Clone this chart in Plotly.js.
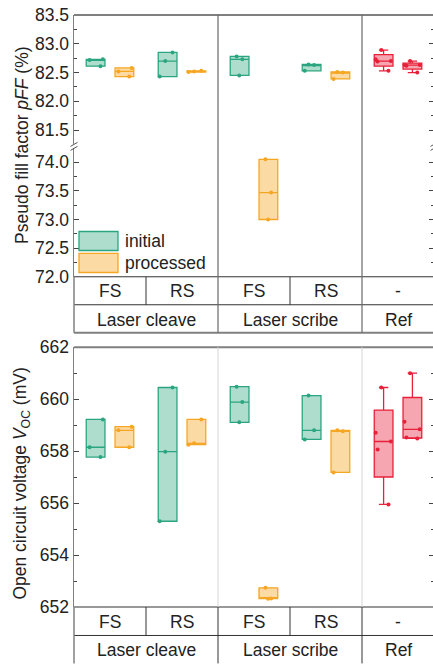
<!DOCTYPE html>
<html><head><meta charset="utf-8">
<script src="https://cdn.plot.ly/plotly-3.0.1.min.js"></script>
<style>html,body{margin:0;padding:0;overflow:hidden;background:#fff}</style>
</head><body><div id="chart" style="width:440px;height:664px"></div>
<script>
// ---- data ----
const categories = ['LC-FS', 'LC-RS', 'LS-FS', 'LS-RS'];
const refCategory = 'Ref';
const allCategories = ['LC-FS', 'LC-RS', 'LS-FS', 'LS-RS', 'Ref'];
const sideLabels = ['FS', 'RS', 'FS', 'RS', '-'];
const groupLabels = ['Laser cleave', 'Laser scribe', 'Ref'];

// Pseudo fill factor pFF (%)
const pffInitial = [[82.72, 82.73, 82.61], [82.85, 82.70, 82.43], [82.73, 82.78, 82.45], [82.64, 82.63, 82.53]];
const pffProcessed = [[82.58, 82.52, 82.43], [82.53, 82.52, 82.51], [74.05, 73.47, 73.00], [82.50, 82.51, 82.39]];
const pffRefA = [82.53, 82.69, 82.70, 82.73, 82.89];
const pffRefB = [82.50, 82.62, 82.63, 82.63, 82.70];

// Open circuit voltage Voc (mV)
const vocInitial = [[659.22, 658.15, 657.77], [660.45, 657.98, 655.30], [660.48, 659.89, 659.11], [660.14, 658.80, 658.45]];
const vocProcessed = [[658.94, 658.80, 658.15], [659.22, 658.30, 658.25], [652.74, 652.33, 652.32], [658.80, 658.77, 657.18]];
const vocRefA = [655.95, 658.06, 658.37, 658.71, 660.45];
const vocRefB = [658.49, 658.52, 658.84, 659.13, 661.00];

// ---- styling ----
const W = 440, H = 664, L = 74, R = 6, T = 15, B = 56.5;
const plotH = H - T - B, plotW = W - L - R;
const py = px => (H - B - px) / plotH;
const pxX = px => (px - L) / plotW;
const FONT = 'Arial, "Liberation Sans", sans-serif';
const FS = 17.5;

const GREEN = '#2BA57F', GREEN_F = 'rgba(43,165,127,0.38)';
const ORANGE = '#F5A623', ORANGE_F = 'rgba(245,166,35,0.42)';
const RED = '#E8203A', RED_F = 'rgba(232,32,58,0.40)';

function boxTrace(name, cats, values, color, fill, og, ya) {
  const x = [], y = [];
  values.forEach((arr, i) => arr.forEach(v => { x.push(cats[i]); y.push(v); }));
  return {
    type: 'box', name: name, x: x, y: y, xaxis: 'x', yaxis: ya, offsetgroup: og,
    showlegend: false, line: { color: color, width: 1.3 }, fillcolor: fill,
    boxpoints: 'all', jitter: 1, pointpos: 0, marker: { color: color, size: 4 },
    quartilemethod: 'exclusive', whiskerwidth: 0.5, hoverinfo: 'skip'
  };
}

const traces = [];
['y', 'y2'].forEach(ya => {
  traces.push(boxTrace('initial', categories, pffInitial, GREEN, GREEN_F, 'a', ya));
  traces.push(boxTrace('processed', categories, pffProcessed, ORANGE, ORANGE_F, 'b', ya));
  traces.push(boxTrace('Ref A', [refCategory], [pffRefA], RED, RED_F, 'a', ya));
  traces.push(boxTrace('Ref B', [refCategory], [pffRefB], RED, RED_F, 'b', ya));
});
traces.push(boxTrace('initial', categories, vocInitial, GREEN, GREEN_F, 'a', 'y3'));
traces.push(boxTrace('processed', categories, vocProcessed, ORANGE, ORANGE_F, 'b', 'y3'));
traces.push(boxTrace('Ref A', [refCategory], [vocRefA], RED, RED_F, 'a', 'y3'));
traces.push(boxTrace('Ref B', [refCategory], [vocRefB], RED, RED_F, 'b', 'y3'));

const yCommon = {
  ticks: 'inside', ticklen: 5, tickwidth: 1, tickcolor: '#444',
  showline: true, linecolor: '#808080', linewidth: 1.5, mirror: 'ticks',
  showgrid: false, zeroline: false, anchor: 'x',
  tickfont: { family: FONT, size: FS, color: '#222' }
};

const shapes = [];
function line(x0, y0, x1, y1, color, width, xref) {
  shapes.push({ type: 'line', xref: xref || 'paper', yref: 'paper', x0: x0, x1: x1, y0: y0, y1: y1,
    line: { color: color, width: width } });
}
// top panel frame & table
line(0, 1, 1, 1, '#808080', 2);
line(0, py(277), 1, py(277), '#333', 1);
line(0, py(305), 1, py(305), '#333', 1);
line(0, py(333), 1, py(333), '#808080', 2);
line(0, py(277), 0, py(333), '#808080', 1.5);
[1.5, 3.5].forEach(x => line(x, py(15), x, py(333), '#6a6a6a', 1.2, 'x'));
[0.5, 2.5].forEach(x => line(x, py(277), x, py(305), '#333', 1, 'x'));
// break marks
[[70.5, 77.5], [430.5, 437.5]].forEach(([a, b]) => {
  line(pxX(a), py(146.5), pxX(b), py(142.5), '#555', 1);
  line(pxX(a), py(150.5), pxX(b), py(146.5), '#555', 1);
});
// bottom panel frame & table
line(0, py(347.5), 1, py(347.5), '#808080', 2);
line(0, py(607.5), 1, py(607.5), '#333', 1);
line(0, py(636), 1, py(636), '#333', 1);
line(0, py(607.5), 0, py(664), '#808080', 1.5);
[1.5, 3.5].forEach(x => {
  line(x, py(347.5), x, py(607.5), '#d4d4d4', 1, 'x');
  line(x, py(607.5), x, py(664), '#333', 1, 'x');
});
[0.5, 2.5].forEach(x => line(x, py(607.5), x, py(636), '#333', 1, 'x'));
// legend swatches
shapes.push({ type: 'rect', xref: 'paper', yref: 'paper', x0: pxX(79), x1: pxX(118), y0: py(250.7), y1: py(231.7),
  fillcolor: GREEN_F, line: { color: GREEN, width: 1.3 } });
shapes.push({ type: 'rect', xref: 'paper', yref: 'paper', x0: pxX(79), x1: pxX(118), y0: py(272.7), y1: py(253.5),
  fillcolor: ORANGE_F, line: { color: ORANGE, width: 1.3 } });

const annotations = [];
function ann(text, x, y, xref, extra) {
  annotations.push(Object.assign({ text: text, x: x, y: y, xref: xref || 'paper', yref: 'paper', showarrow: false,
    xanchor: 'center', yanchor: 'middle', font: { family: FONT, size: FS, color: '#222' } }, extra || {}));
}
// table texts
const groupCenters = [0.5, 2.5, 4];
sideLabels.forEach((s, i) => { ann(s, i, py(291.5), 'x'); ann(s, i, py(622.5), 'x'); });
groupLabels.forEach((g, i) => { ann(g, groupCenters[i], py(320), 'x'); ann(g, groupCenters[i], py(650.5), 'x'); });
// legend text
ann('initial', pxX(123), py(241), 'paper', { xanchor: 'left' });
ann('processed', pxX(123), py(263), 'paper', { xanchor: 'left' });
// axis titles
ann('Pseudo fill factor <i>pFF</i> (%)', pxX(22), py(146), 'paper', { textangle: -90 });
ann('Open circuit voltage <i>V</i><sub>OC</sub> (mV)', pxX(22), py(484), 'paper', { textangle: -90 });

const layout = {
  width: W, height: H, margin: { l: L, r: R, t: T, b: B },
  paper_bgcolor: '#fff', plot_bgcolor: 'rgba(0,0,0,0)',
  boxmode: 'group', boxgap: 0.2, boxgroupgap: 0.35,
  showlegend: false,
  xaxis: { domain: [0, 1], anchor: 'y2', type: 'category', categoryarray: allCategories, categoryorder: 'array',
    range: [-0.5, 4.5], showticklabels: false, ticks: '', showline: false, showgrid: false, zeroline: false },
  yaxis: Object.assign({}, yCommon, { domain: [py(144.6), 1], range: [81.25, 83.5], dtick: 0.5, tick0: 0,
    tickformat: '.1f', minor: { dtick: 0.25, ticks: 'inside', ticklen: 3, tickcolor: '#444' } }),
  yaxis2: Object.assign({}, yCommon, { domain: [py(277), py(148)], range: [72, 74.25], dtick: 0.5, tick0: 0,
    tickformat: '.1f', minor: { dtick: 0.25, ticks: 'inside', ticklen: 3, tickcolor: '#444' } }),
  yaxis3: Object.assign({}, yCommon, { domain: [0, py(347.5)], range: [652, 662], dtick: 2, tick0: 0,
    minor: { dtick: 1, ticks: 'inside', ticklen: 3, tickcolor: '#444' } }),
  shapes: shapes, annotations: annotations
};

Plotly.newPlot('chart', traces, layout, { staticPlot: true, displayModeBar: false });
</script></body></html>
